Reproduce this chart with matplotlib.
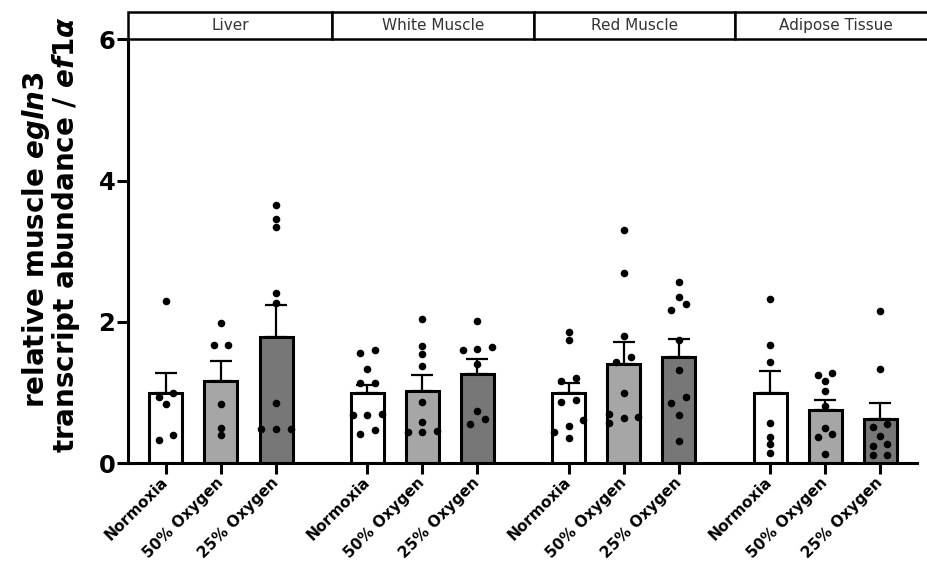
import numpy as np
import matplotlib.pyplot as plt
from matplotlib.patches import Rectangle

plt.rcParams['font.family'] = 'DejaVu Sans'
plt.rcParams['mathtext.fontset'] = 'custom'
plt.rcParams['mathtext.it'] = 'DejaVu Sans:italic:bold'
plt.rcParams['mathtext.rm'] = 'DejaVu Sans:bold'
plt.rcParams['mathtext.bf'] = 'DejaVu Sans:bold'

# dati
tissues = ['Liver', 'White Muscle', 'Red Muscle', 'Adipose Tissue']
treatments = ['Normoxia', '50% Oxygen', '25% Oxygen']
bar_colors = ['white', '#a6a6a6', '#777777']

means = [[1.00, 1.16, 1.79],
         [1.00, 1.03, 1.27],
         [1.00, 1.40, 1.50],
         [1.00, 0.75, 0.62]]
sems = [[0.28, 0.29, 0.45],
        [0.11, 0.22, 0.20],
        [0.13, 0.31, 0.26],
        [0.30, 0.14, 0.23]]

liver_pts = [[2.30, 0.99, 0.94, 0.84, 0.40, 0.33],
             [1.98, 1.68, 1.68, 0.84, 0.50, 0.40],
             [3.66, 3.46, 3.35, 2.41, 2.27, 0.86, 0.48, 0.49, 0.48]]
white_pts = [[1.56, 1.60, 1.34, 1.13, 1.14, 0.69, 0.70, 0.68, 0.41, 0.47],
             [2.04, 1.66, 1.55, 1.38, 0.87, 0.58, 0.44, 0.46, 0.44],
             [2.01, 1.65, 1.61, 1.62, 1.40, 0.74, 0.63, 0.56]]
red_pts = [[1.86, 1.74, 1.21, 1.17, 0.90, 0.87, 0.61, 0.53, 0.45, 0.36],
           [3.30, 2.69, 1.80, 1.50, 1.43, 0.99, 0.70, 0.57, 0.65, 0.64],
           [2.57, 2.36, 2.25, 2.17, 1.74, 1.32, 0.86, 0.94, 0.69, 0.32]]
adipose_pts = [[2.32, 1.68, 1.43, 0.57, 0.37, 0.28, 0.15],
               [1.25, 1.28, 1.16, 1.02, 0.81, 0.50, 0.41, 0.37, 0.13],
               [2.16, 1.34, 0.55, 0.51, 0.39, 0.28, 0.24, 0.12, 0.12]]
points = [liver_pts, white_pts, red_pts, adipose_pts]


def swarm(vals, gap=0.085, step=0.267):
    # sposta in orizzontale i punti con valori quasi uguali
    vals = np.asarray(vals)
    order = np.argsort(vals)
    v = vals[order]
    offs = np.zeros(len(v))
    start = 0
    for i in range(1, len(v) + 1):
        if i == len(v) or v[i] - v[i - 1] >= gap:
            n = i - start
            if n <= 3:
                offs[start:i] = (np.arange(n) - (n - 1) / 2) * step
            else:
                offs[start:i] = (np.arange(n) % 3 - 1) * step  # zigzag
            start = i
    out = np.zeros(len(v))
    out[order] = offs
    return out


group_gap = 3.66
x_left, x_right = -0.69, 13.65

fig = plt.figure(figsize=(9.27, 5.69), dpi=100)
ax = fig.add_axes([128 / 927, 1 - 463.3 / 569, 789 / 927, 424 / 569])

xs = []
for g in range(len(tissues)):
    for j in range(len(treatments)):
        x = g * group_gap + j
        xs.append(x)
        ax.bar(x, means[g][j], width=0.6, color=bar_colors[j], edgecolor='black',
               linewidth=2.2, zorder=2)
        ax.errorbar(x, means[g][j], yerr=[[0], [sems[g][j]]], fmt='none', ecolor='black',
                    elinewidth=1.6, capsize=8, capthick=1.6, zorder=3)
        pts = points[g][j]
        ax.scatter(x + swarm(pts), pts, s=30, color='black', linewidths=0, zorder=4,
                   clip_on=False)

ax.set_xlim(x_left, x_right)
ax.set_ylim(0, 6)
ax.set_yticks([0, 2, 4, 6])
ax.set_yticklabels(['0', '2', '4', '6'], fontsize=17.5, fontweight='bold')
ax.set_xticks(xs)
ax.set_xticklabels(treatments * len(tissues), rotation=45, ha='right', va='center',
                   rotation_mode='anchor', fontsize=11, fontweight='bold')
ax.tick_params(axis='x', length=8, width=2.2, pad=4)
ax.tick_params(axis='y', length=8, width=2.2, pad=1)
for s in ['top', 'right']:
    ax.spines[s].set_visible(False)
for s in ['left', 'bottom']:
    ax.spines[s].set_linewidth(2.2)

# intestazioni dei tessuti
edges = [x_left] + [g * group_gap - 0.64 for g in range(1, len(tissues) + 1)]
for g, name in enumerate(tissues):
    ax.add_patch(Rectangle((edges[g], 6.0), edges[g + 1] - edges[g], 0.39, facecolor='white',
                           edgecolor='black', linewidth=1.8, clip_on=False, zorder=5))
    ax.text((edges[g] + min(edges[g + 1], 14.04)) / 2, 6.195, name, ha='center', va='center',
            fontsize=11, color='#333333', zorder=6)

fig.text(44 / 927, 1 - 240 / 569, r'relative muscle $\mathit{egln3}$', rotation=90,
         rotation_mode='anchor', ha='center', va='baseline', fontsize=20, fontweight='bold')
fig.text(74 / 927, 1 - 234.5 / 569, r'transcript abundance / $\mathit{ef1\alpha}$', rotation=90,
         rotation_mode='anchor', ha='center', va='baseline', fontsize=20, fontweight='bold')

fig.savefig('out.png', dpi=100)
